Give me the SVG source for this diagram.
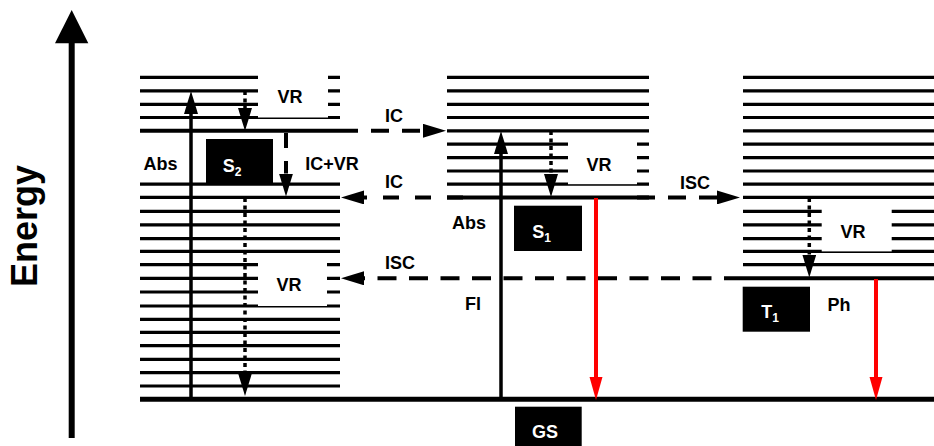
<svg xmlns="http://www.w3.org/2000/svg" width="934" height="446" viewBox="0 0 934 446">
<style>
.lv{stroke:#000;stroke-width:3.2;fill:none}
.main{stroke:#000;stroke-width:4;fill:none}
.gs{stroke:#000;stroke-width:5;fill:none}
.box{fill:#000}
.cover{fill:#fff}
.solid{stroke:#000;stroke-width:3.5;fill:none}
.dash{stroke:#000;stroke-width:4;fill:none}
.dot{stroke:#000;stroke-width:3.5;fill:none;stroke-dasharray:4 3.5}
.red{stroke:#f00;stroke-width:4;fill:none}
text{font-family:"Liberation Sans",Arial,sans-serif;font-weight:bold;font-size:18px;fill:#000;text-anchor:middle}
.wt{fill:#fff}
</style>
<defs>
<marker id="ah" markerUnits="userSpaceOnUse" markerWidth="23" markerHeight="14" refX="0" refY="7" orient="auto"><path d="M0,0 L23,7 L0,14 Z" fill="#000"/></marker>
<marker id="ahr" markerUnits="userSpaceOnUse" markerWidth="23" markerHeight="14" refX="0" refY="7" orient="auto"><path d="M0,0.5 L23,7 L0,13.5 Z" fill="#f00"/></marker>
</defs>
<rect width="934" height="446" fill="#fff"/>

<g id="axis">
<line x1="71.7" y1="42" x2="71.7" y2="438" stroke="#000" stroke-width="6"/>
<polygon points="71.7,10 55,43.3 88.3,43.3" fill="#000"/>
<text transform="translate(36.7,226) rotate(-90)" style="font-size:36px">Energy</text>
</g>

<g id="S2">
<path class="lv" d="M140,77.3H340M140,90.8H340M140,104.3H340M140,117.5H340M140,184.2H340M140,197.4H340M140,211.4H340M140,224.9H340M140,238.6H340M140,251.4H340M140,264.7H340M140,278.3H340M140,292H340M140,306H340M140,319.3H340M140,332.3H340M140,345.7H340M140,359.3H340M140,372.7H340M140,386H340"/>
<path class="main" d="M140,130.8H340"/>
<rect class="box" x="206" y="139" width="67" height="46"/>
<text class="wt" x="232" y="171.5">S<tspan style="font-size:12px" dy="4">2</tspan></text>
</g>

<g id="S1">
<path class="lv" d="M447,77.3H649M447,90.8H649M447,104.3H649M447,117.5H649M447,130.8H649M447,144.2H649M447,157.6H649M447,171H649M447,184.2H649"/>
<path class="main" d="M447,197.4H649"/>
<rect class="box" x="514" y="205.7" width="68" height="45.3"/>
<text class="wt" x="541.5" y="238.3">S<tspan style="font-size:12px" dy="4">1</tspan></text>
</g>

<g id="T1">
<path class="lv" d="M743,77.3H934M743,90.8H934M743,104.3H934M743,117.5H934M743,130.8H934M743,144.2H934M743,157.6H934M743,171H934M743,184.2H934M743,197.4H934M743,211.4H934M743,224.9H934M743,238.6H934M743,251.4H934M743,264.7H934"/>
<path class="main" d="M743,278.3H934"/>
<rect class="box" x="742.7" y="286.7" width="67.3" height="45"/>
<text class="wt" x="770" y="318.3">T<tspan style="font-size:12px" dy="4">1</tspan></text>
</g>

<g id="GS">
<path class="gs" d="M140,399.3H934"/>
<rect class="box" x="515" y="406.7" width="66.7" height="40"/>
<text class="wt" x="545" y="438.3">GS</text>
</g>

<g id="connectors">
<line class="solid" x1="191" y1="399" x2="191" y2="114" marker-end="url(#ah)"/>
<line class="dot" x1="245" y1="91" x2="245" y2="108" marker-end="url(#ah)"/>
<line class="dot" x1="245" y1="198" x2="245" y2="373" marker-end="url(#ah)"/>
<line class="dash" x1="286" y1="133" x2="286" y2="173.5" stroke-dasharray="15 13" marker-end="url(#ah)"/>
<line class="dash" x1="340" y1="130.8" x2="423" y2="130.8" stroke-dasharray="18 13" marker-end="url(#ah)"/>
<line class="dash" x1="463" y1="197.4" x2="364" y2="197.4" stroke-dasharray="16 16" marker-end="url(#ah)"/>
<line class="dash" x1="743" y1="278.3" x2="364" y2="278.3" stroke-dasharray="19 12.5" marker-end="url(#ah)"/>
<line class="dash" x1="637" y1="197.4" x2="717" y2="197.4" stroke-dasharray="18 13" marker-end="url(#ah)"/>
<line class="solid" x1="501" y1="399" x2="501" y2="154" marker-end="url(#ah)"/>
<line class="dot" x1="551" y1="131" x2="551" y2="174" marker-end="url(#ah)"/>
<line class="red" x1="596" y1="198" x2="596" y2="377" marker-end="url(#ahr)"/>
<line class="dot" x1="809.3" y1="198" x2="809.3" y2="254.5" marker-end="url(#ah)"/>
<line class="red" x1="876" y1="279" x2="876" y2="377" marker-end="url(#ahr)"/>
</g>

<g id="labels">
<rect class="cover" x="258" y="70" width="70" height="47.5"/>
<rect class="cover" x="258" y="257" width="69" height="49"/>
<rect class="cover" x="568" y="137" width="69" height="47.2"/>
<rect class="cover" x="821.7" y="204" width="70" height="47.4"/>
<text x="290" y="103.3">VR</text>
<text x="160.5" y="170">Abs</text>
<text x="332" y="170">IC+VR</text>
<text x="394" y="121.7">IC</text>
<text x="394" y="188.3">IC</text>
<text x="289" y="290.7">VR</text>
<text x="400" y="269.3">ISC</text>
<text x="469" y="229.3">Abs</text>
<text x="599" y="170.7">VR</text>
<text x="695" y="189.3">ISC</text>
<text x="473" y="310">Fl</text>
<text x="853" y="238.3">VR</text>
<text x="839" y="310.7">Ph</text>
</g>
</svg>
